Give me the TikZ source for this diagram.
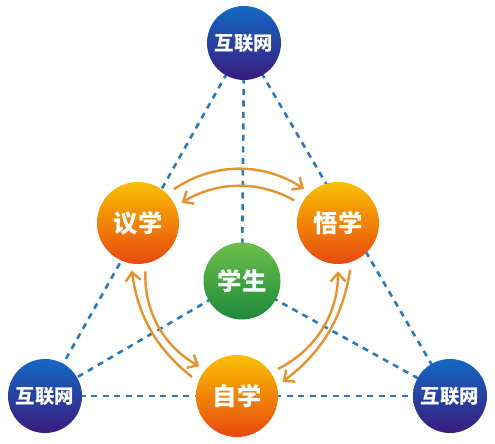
\documentclass[tikz,border=0pt]{standalone}
\usepackage{fontspec}
\newfontfamily\cjk{Noto Sans CJK SC}
\usetikzlibrary{arrows.meta}
\definecolor{dashblue}{HTML}{2A7AB8}
\definecolor{arroworange}{HTML}{E8922E}
\definecolor{bluetop}{HTML}{1368C4}
\definecolor{bluebot}{HTML}{3A1B7E}
\definecolor{orangetop}{HTML}{F9BF00}
\definecolor{orangebot}{HTML}{E8480F}
\definecolor{greentop}{HTML}{6CBF4A}
\definecolor{greenbot}{HTML}{1D8A3A}
\tikzset{
  net/.style={circle, minimum size=74bp, inner sep=0pt, top color=bluetop, bottom color=bluebot, text=white, font=\cjk\bfseries\fontsize{19.5}{20}\selectfont},
  learn/.style={circle, minimum size=82bp, inner sep=0pt, top color=orangetop, bottom color=orangebot, text=white, font=\cjk\bfseries\fontsize{24.5}{26}\selectfont},
  student/.style={circle, minimum size=77bp, inner sep=0pt, top color=greentop, bottom color=greenbot, text=white, font=\cjk\bfseries\fontsize{24.5}{26}\selectfont},
  link/.style={draw=dashblue, line width=2.6bp, dash pattern=on 6bp off 5.5bp},
  flow/.style={draw=arroworange, line width=2.4bp, -{Straight Barb[length=8.5bp, width=15bp, line width=2.4bp]}, shorten <=8bp, shorten >=7bp}
}
\begin{document}
\begin{tikzpicture}[x=1bp, y=-1bp]
\useasboundingbox (0,0) rectangle (495,444);
\coordinate (ptop) at (244,43);
\coordinate (pbl) at (45,396);
\coordinate (pbr) at (450,396);
\coordinate (pyi) at (138,223);
\coordinate (pwu) at (338,223);
\coordinate (pxs) at (242,281);
\coordinate (pzi) at (237,396);
% dashed links
\draw[link] (ptop) -- (pbl);
\draw[link] (ptop) -- (pbr);
\draw[link] (pbl) -- (pbr);
\draw[link] (ptop) -- (pxs);
\draw[link] (pxs) -- (pbl);
\draw[link] (pxs) -- (pbr);
% nodes
\node[net] (top) at (ptop) {互联网};
\node[net] (bl) at (pbl) {互联网};
\node[net] (br) at (pbr) {互联网};
\node[learn] (yi) at (pyi) {议学};
\node[learn] (wu) at (pwu) {悟学};
\node[learn] (zi) at (pzi) {自学};
\node[student] (xs) at (pxs) {学生};
% arrows
\draw[flow] (yi.45) to[bend left=34] (wu.133);
\draw[flow] (wu.153) to[bend right=30] (yi.24);
\draw[flow] (zi.160) to[bend left=22] (yi.260);
\draw[flow] (yi.281) to[bend right=32] (zi.140);
\draw[flow] (zi.35) to[bend right=32] (wu.270);
\draw[flow] (wu.289) to[bend left=22] (zi.14);
\end{tikzpicture}
\end{document}
